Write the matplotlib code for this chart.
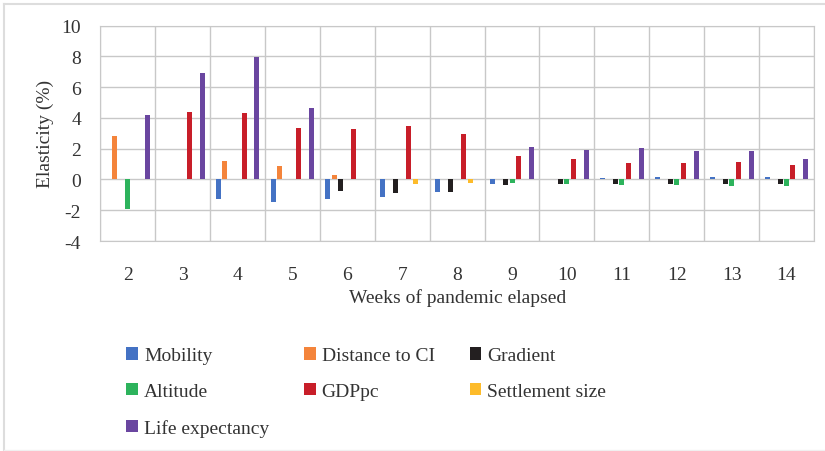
import numpy as np
import matplotlib.pyplot as plt
from matplotlib.lines import Line2D

weeks = ["2", "3", "4", "5", "6", "7", "8", "9", "10", "11", "12", "13", "14"]
series_names = ["Mobility", "Distance to CI", "Gradient", "Altitude",
                "GDPpc", "Settlement size", "Life expectancy"]
colors = ["#4472C4", "#F4843B", "#231F20", "#2DB35C",
          "#C81E29", "#FDBB2A", "#6A46A0"]

mobility = [0, 0, -1.30, -1.47, -1.26, -1.13, -0.82, -0.30, 0, 0.10, 0.19, 0.13, 0.19]
distance_ci = [2.84, 0, 1.23, 0.87, 0.32, 0, 0, 0, 0, 0, 0, 0, 0]
gradient = [0, 0, 0, 0, -0.76, -0.87, -0.80, -0.35, -0.32, -0.32, -0.32, -0.32, -0.28]
altitude = [-1.95, 0, 0, 0, 0, 0, 0, -0.24, -0.32, -0.37, -0.39, -0.43, -0.45]
gdppc = [0, 4.39, 4.35, 3.33, 3.27, 3.46, 2.99, 1.52, 1.30, 1.10, 1.08, 1.13, 0.97]
settlement = [0, 0, 0, 0, 0, -0.30, -0.26, 0, 0, 0, 0, 0, 0]
life_exp = [4.20, 6.95, 7.99, 4.68, 0, 0, 0, 2.14, 1.90, 2.03, 1.84, 1.84, 1.30]

all_series = [mobility, distance_ci, gradient, altitude, gdppc, settlement, life_exp]

plt.rcParams['font.family'] = ['Liberation Serif', 'DejaVu Serif']
plt.rcParams['axes.unicode_minus'] = False

fig = plt.figure(figsize=(8.25, 4.52), dpi=100)
ax = fig.add_axes([0.1216, 0.4646, 0.865, 0.4763])

x = np.arange(len(weeks))
pitch = 0.118
width = 0.091
handles = []
for i, (vals, name, col) in enumerate(zip(all_series, series_names, colors)):
    h = ax.bar(x + (i - 3) * pitch, vals, width, color=col, label=name, zorder=3)
    handles.append(h)

ax.set_xlim(-0.5, len(weeks) - 0.5)
ax.set_ylim(-4, 10)
ax.set_yticks(np.arange(-4, 11, 2))
ax.set_xticks(x)
ax.set_xticklabels(weeks)
ax.set_xticks(np.arange(-0.5, len(weeks), 1), minor=True)
ax.grid(True, which='major', axis='y', color='#C8C8C8', lw=1, zorder=0)
ax.grid(True, which='minor', axis='x', color='#C8C8C8', lw=1, zorder=0)
ax.tick_params(which='both', length=0, labelsize=14, colors='#333333')
ax.tick_params(axis='x', pad=18)
ax.tick_params(axis='y', pad=14)
for s in ax.spines.values():
    s.set_color('#C8C8C8')

ax.set_xlabel("Weeks of pandemic elapsed", fontsize=14, color='#333333', labelpad=4)
ax.set_ylabel("Elasticity (%)", fontsize=14, color='#333333', labelpad=5)

# legend laid out row-wise like the original (matplotlib fills by column)
order = [0, 3, 6, 1, 4, 2, 5]
leg = fig.legend([handles[k] for k in order], [series_names[k] for k in order],
                 ncol=3, loc='upper left', bbox_to_anchor=(0.132, 0.268),
                 frameon=False, fontsize=14, handlelength=0.6, handleheight=0.6,
                 handletextpad=0.3, columnspacing=1.8, labelspacing=0.96,
                 labelcolor='#333333')

fig.add_artist(Line2D([0.005, 0.005], [0.002, 0.989], color='#DDDDDD', lw=1.5))
fig.add_artist(Line2D([0.005, 1.0], [0.989, 0.989], color='#DDDDDD', lw=1.5))
fig.add_artist(Line2D([0.005, 1.0], [0.002, 0.002], color='#F0F0F0', lw=1))

fig.savefig("out.png", dpi=100)
